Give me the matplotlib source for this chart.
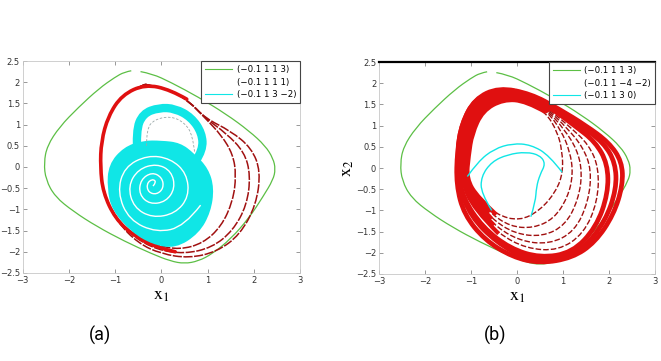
import matplotlib.pyplot as plt
from matplotlib.lines import Line2D
from matplotlib.path import Path
from matplotlib.patches import PathPatch

plt.rcParams['mathtext.fontset'] = 'stix'

# limit cycle shared by both panels (x1, x2), clockwise from the top gap
green_x = [-0.45, -0.2, 0.2, 0.8, 1.4, 1.9, 2.25, 2.42, 2.47, 2.42, 2.2, 1.9, 1.5, 1.1, 0.8, 0.5,
           0.2, -0.2, -0.8, -1.4, -1.9, -2.3, -2.5, -2.54, -2.47, -2.2, -1.8, -1.35, -1.0, -0.8, -0.65]
green_y = [2.25, 2.2, 2.0, 1.65, 1.25, 0.85, 0.5, 0.2, -0.05, -0.3, -0.7, -1.2, -1.7, -2.05, -2.22, -2.28,
           -2.22, -2.05, -1.75, -1.4, -1.05, -0.7, -0.3, 0.1, 0.5, 0.95, 1.4, 1.85, 2.12, 2.24, 2.27]

# panel (a): red orbit, three lanes on the right
red_a = [
    ([-0.35, 0.2, 0.6, 0.95, 1.3, 1.55, 1.62, 1.55, 1.3, 0.9, 0.4, -0.1, -0.6, -1.0, -1.25, -1.32, -1.3, -1.15, -0.85, -0.35],
     [1.95, 1.82, 1.55, 1.15, 0.75, 0.3, -0.2, -0.8, -1.4, -1.8, -1.95, -1.85, -1.6, -1.2, -0.6, 0.0, 0.6, 1.2, 1.7, 1.95]),
    ([-0.35, 0.2, 0.6, 0.95, 1.4, 1.8, 1.93, 1.85, 1.55, 1.1, 0.5, -0.1, -0.6, -1.0, -1.26, -1.32, -1.3, -1.15, -0.85, -0.35],
     [1.95, 1.82, 1.55, 1.15, 0.8, 0.35, -0.2, -0.9, -1.5, -1.9, -2.05, -1.95, -1.65, -1.22, -0.6, 0.0, 0.6, 1.2, 1.7, 1.95]),
    ([-0.35, 0.2, 0.6, 0.95, 1.5, 1.95, 2.15, 2.05, 1.7, 1.2, 0.6, 0.0, -0.5, -0.95, -1.26, -1.33, -1.3, -1.15, -0.85, -0.35],
     [1.95, 1.82, 1.55, 1.15, 0.85, 0.45, -0.1, -0.9, -1.6, -2.0, -2.15, -2.05, -1.8, -1.3, -0.62, 0.0, 0.6, 1.2, 1.7, 1.95]),
]
red_band_x = [0.55, 0.2, -0.35, -0.85, -1.15, -1.3, -1.32, -1.26, -1.0, -0.6, -0.1, 0.3]
red_band_y = [1.6, 1.82, 1.95, 1.7, 1.2, 0.6, 0.0, -0.6, -1.21, -1.62, -1.9, -2.0]

# panel (a): cyan attractor, lower blob, upper ring, white spiral gaps
blob_x = [-0.8, -0.4, 0.0, 0.4, 0.7, 1.0, 1.12, 1.05, 0.8, 0.3, -0.2, -0.65, -1.05, -1.15, -1.12]
blob_y = [0.45, 0.6, 0.6, 0.55, 0.3, -0.05, -0.5, -1.05, -1.55, -1.9, -1.8, -1.5, -1.0, -0.5, 0.05]
ring_x = [-0.52, -0.55, -0.4, -0.05, 0.3, 0.65, 0.88, 0.9, 0.75]
ring_y = [0.3, 0.85, 1.26, 1.4, 1.38, 1.17, 0.8, 0.4, 0.15]
ring_in_x = [-0.32, -0.32, -0.15, 0.2, 0.5, 0.68, 0.72]
ring_in_y = [0.5, 0.9, 1.12, 1.2, 1.05, 0.75, 0.35]
spiral_x = [-0.18, -0.1, -0.2, -0.32, -0.28, -0.1, 0.05, 0.02, -0.2, -0.45, -0.48, -0.25, 0.1, 0.3, 0.22,
            -0.1, -0.5, -0.72, -0.6, -0.2, 0.3, 0.6, 0.55, 0.2, -0.3, -0.8, -0.95, -0.7, -0.1, 0.5, 0.85]
spiral_y = [-0.45, -0.35, -0.28, -0.4, -0.6, -0.65, -0.5, -0.25, -0.12, -0.3, -0.65, -0.88, -0.82, -0.5, -0.1,
            0.08, -0.05, -0.45, -0.95, -1.2, -1.1, -0.7, -0.15, 0.2, 0.28, 0.0, -0.6, -1.25, -1.55, -1.4, -0.9]

# panel (b): red attractor, loops from the inner apex to the outer band
red_b = [
    ([-0.3, 0.2, 0.62, 0.88, 0.98, 1.0, 0.85, 0.5, 0.05, -0.45, -0.85, -1.1, -1.05, -0.98, -0.75],
     [1.62, 1.58, 1.32, 0.85, 0.4, -0.1, -0.55, -1.0, -1.25, -1.1, -0.7, -0.25, 0.3, 0.8, 1.35]),
    ([-0.32, 0.22, 0.66, 0.95, 1.15, 1.22, 1.1, 0.8, 0.35, -0.15, -0.6, -0.98, -1.12, -1.1, -1.04, -0.8],
     [1.67, 1.62, 1.33, 0.9, 0.4, -0.15, -0.7, -1.2, -1.42, -1.38, -1.05, -0.55, -0.22, 0.3, 0.85, 1.4]),
    ([-0.34, 0.24, 0.68, 1.02, 1.3, 1.42, 1.33, 1.05, 0.55, -0.05, -0.55, -0.98, -1.15, -1.15, -1.1, -0.85],
     [1.72, 1.64, 1.34, 0.92, 0.45, -0.1, -0.75, -1.35, -1.62, -1.55, -1.2, -0.7, -0.22, 0.3, 0.88, 1.45]),
    ([-0.35, 0.26, 0.7, 1.08, 1.43, 1.62, 1.55, 1.25, 0.7, 0.05, -0.5, -1.0, -1.18, -1.2, -1.15, -0.88],
     [1.76, 1.66, 1.35, 0.95, 0.5, -0.05, -0.8, -1.5, -1.8, -1.72, -1.35, -0.8, -0.25, 0.3, 0.9, 1.5]),
    ([-0.36, 0.28, 0.72, 1.15, 1.56, 1.78, 1.75, 1.45, 0.9, 0.2, -0.4, -0.95, -1.2, -1.24, -1.18, -0.9],
     [1.8, 1.68, 1.36, 0.97, 0.55, 0.0, -0.8, -1.55, -1.95, -1.9, -1.55, -0.95, -0.3, 0.3, 0.95, 1.55]),
    ([-0.38, 0.3, 0.78, 1.25, 1.7, 1.97, 1.98, 1.72, 1.2, 0.5, -0.15, -0.75, -1.18, -1.27, -1.26, -1.17, -0.9],
     [1.83, 1.7, 1.38, 1.0, 0.62, 0.1, -0.6, -1.4, -2.0, -2.12, -1.9, -1.4, -0.7, -0.1, 0.5, 1.08, 1.6]),
    ([-0.39, 0.3, 0.85, 1.38, 1.88, 2.14, 2.16, 1.92, 1.45, 0.85, 0.2, -0.45, -1.0, -1.28, -1.3, -1.2, -0.92],
     [1.86, 1.73, 1.4, 1.0, 0.6, 0.12, -0.5, -1.25, -1.9, -2.2, -2.15, -1.75, -1.15, -0.4, 0.4, 1.05, 1.62]),
    ([-0.4, 0.3, 0.9, 1.5, 2.0, 2.28, 2.3, 2.1, 1.7, 1.2, 0.5, -0.1, -0.7, -1.15, -1.32, -1.3, -1.2, -0.92],
     [1.9, 1.75, 1.4, 1.0, 0.6, 0.15, -0.4, -1.1, -1.75, -2.12, -2.25, -2.1, -1.7, -1.1, -0.4, 0.4, 1.05, 1.63]),
]
cyan_b = [
    ([0.98, 0.7, 0.3, -0.1, -0.5, -0.85, -1.08],
     [-0.1, 0.3, 0.55, 0.58, 0.45, 0.15, -0.2]),
    ([-0.55, -0.78, -0.78, -0.55, -0.2, 0.2, 0.5, 0.62, 0.5, 0.42, 0.4, 0.3],
     [-1.0, -0.6, -0.2, 0.15, 0.32, 0.38, 0.3, 0.1, -0.15, -0.45, -0.8, -1.15]),
]

labels_a = ['(\u22120.1 1 1 3)', '(\u22120.1 1 1 1)', '(\u22120.1 1 3 \u22122)']
labels_b = ['(\u22120.1 1 1 3)', '(\u22120.1 1 \u22124 \u22122)', '(\u22120.1 1 3 0)']

GREEN = '#5cbf45'
RED = '#e01010'
DARKRED = '#a01010'
CYAN = '#10e6e6'


def smooth(xs, ys, closed=True):
    """quadratic B-spline path through the control points, drawn by matplotlib"""
    pts = list(zip(xs, ys))
    mid = lambda a, b: ((a[0] + b[0]) / 2, (a[1] + b[1]) / 2)
    if closed:
        pts = pts + pts[:2]
        verts = [mid(pts[0], pts[1])]
        codes = [Path.MOVETO]
        for i in range(1, len(pts) - 1):
            verts += [pts[i], mid(pts[i], pts[i + 1])]
            codes += [Path.CURVE3, Path.CURVE3]
        return Path(verts, codes)
    verts = [pts[0]]
    codes = [Path.MOVETO]
    for i in range(1, len(pts) - 1):
        end = pts[i + 1] if i == len(pts) - 2 else mid(pts[i], pts[i + 1])
        verts += [pts[i], end]
        codes += [Path.CURVE3, Path.CURVE3]
    return Path(verts, codes)


def curve(ax, xs, ys, closed=True, fill=False, **kw):
    patch = PathPatch(smooth(xs, ys, closed), fill=fill, **kw)
    ax.add_patch(patch)
    return patch


def style_axes(ax):
    ax.set_xlim(-3, 3)
    ax.set_ylim(-2.5, 2.5)
    ax.set_xticks([-3, -2, -1, 0, 1, 2, 3])
    ax.set_yticks([-2.5, -2, -1.5, -1, -0.5, 0, 0.5, 1, 1.5, 2, 2.5])
    ax.set_yticklabels(['\u22122.5', '\u22122', '\u22121.5', '\u22121', '\u22120.5', '0', '0.5', '1', '1.5', '2', '2.5'])
    ax.set_xticklabels(['\u22123', '\u22122', '\u22121', '0', '1', '2', '3'])
    ax.tick_params(direction='in', length=3, width=0.6, color='#888888', labelsize=6,
                   labelcolor='#333333', top=True, right=True, pad=2)
    for s in ax.spines.values():
        s.set_color('#c8c8c8')
        s.set_linewidth(0.6)
    ax.set_xlabel(r'$\mathrm{x}_1$', fontsize=13, labelpad=1)


def add_legend(ax, labels):
    handles = [Line2D([], [], color=GREEN, lw=0.8),
               Line2D([], [], color='white', lw=0.8),
               Line2D([], [], color=CYAN, lw=0.8)]
    leg = ax.legend(handles, labels, loc='upper right', fontsize=6.2, handlelength=3.2,
                    borderaxespad=0.05, fancybox=False, framealpha=1, labelspacing=0.42,
                    borderpad=0.4, handletextpad=0.5)
    leg.get_frame().set_edgecolor('#444444')
    leg.get_frame().set_linewidth(0.8)


fig = plt.figure(figsize=(6.61, 3.61), dpi=100)
ax1 = fig.add_axes([0.0343, 0.2438, 0.4195, 0.5872])
ax2 = fig.add_axes([0.5734, 0.2410, 0.4176, 0.5872])

# ---- panel (a)
curve(ax1, green_x, green_y, closed=False, edgecolor=GREEN, lw=0.9)
for xs, ys in red_a:
    curve(ax1, xs, ys, edgecolor=DARKRED, lw=1.1, linestyle=(0, (6, 1)))
curve(ax1, red_band_x, red_band_y, closed=False, edgecolor=RED, lw=2.6, capstyle='round')
curve(ax1, blob_x, blob_y, fill=True, facecolor=CYAN, edgecolor=CYAN, lw=1.5)
curve(ax1, ring_x, ring_y, closed=False, edgecolor=CYAN, lw=6, capstyle='round')
curve(ax1, ring_in_x, ring_in_y, closed=False, edgecolor='#9aa8a8', lw=0.6, linestyle=(0, (3, 2)))
curve(ax1, spiral_x, spiral_y, closed=False, edgecolor='white', lw=1.0)
style_axes(ax1)
add_legend(ax1, labels_a)

# ---- panel (b)
curve(ax2, green_x, green_y, closed=False, edgecolor=GREEN, lw=0.9)
for i, (xs, ys) in enumerate(red_b):
    if i < 5:
        curve(ax2, xs, ys, edgecolor=DARKRED, lw=1.0, linestyle=(0, (4, 1.5)))
    else:
        curve(ax2, xs, ys, edgecolor=RED, lw=3.4)
for xs, ys in red_b[:5]:
    # thick part where all loops crowd on the left and top
    curve(ax2, xs[-6:] + xs[:3], ys[-6:] + ys[:3], closed=False, edgecolor=RED, lw=3.0)
for xs, ys in cyan_b:
    curve(ax2, xs, ys, closed=False, edgecolor=CYAN, lw=1.0)
style_axes(ax2)
ax2.spines['top'].set_color('black')
ax2.spines['top'].set_linewidth(1.6)
ax2.set_ylabel(r'$\mathrm{x}_2$', fontsize=13, labelpad=0)
add_legend(ax2, labels_b)

fig.text(0.151, 0.07, '(a)', fontsize=13, family='Roboto', ha='center', va='center')
fig.text(0.749, 0.07, '(b)', fontsize=13, family='Roboto', ha='center', va='center')

fig.savefig('out.png', dpi=100)
